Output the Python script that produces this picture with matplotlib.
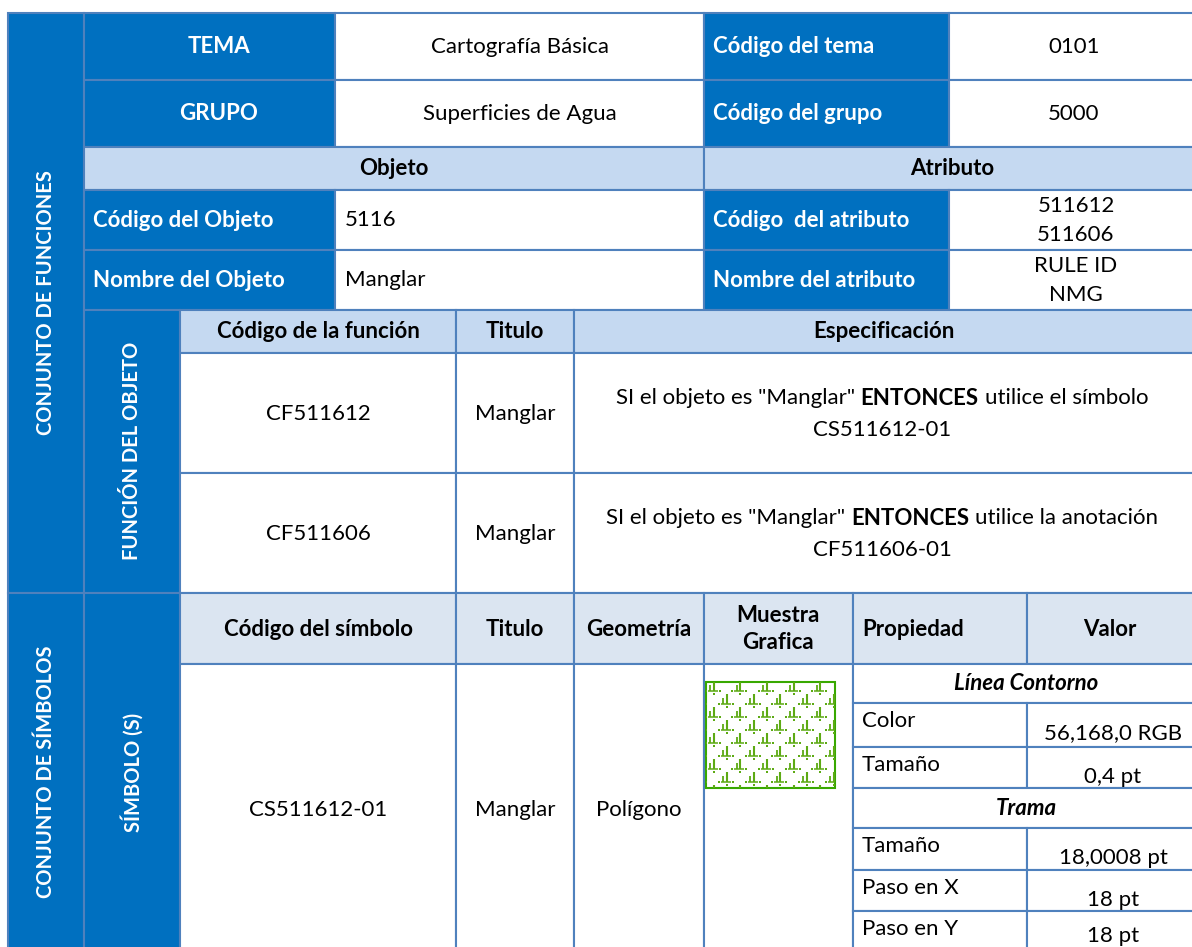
import matplotlib
matplotlib.use("Agg")
import matplotlib.pyplot as plt
from matplotlib.patches import Rectangle

plt.rcParams['font.family'] = ['Lato', 'DejaVu Sans']

# ---------------- contenido de la ficha ----------------
top_labels = ['TEMA', 'GRUPO']
top_values = ['Cartografía Básica', 'Superficies de Agua']
top_code_labels = ['Código del tema', 'Código del grupo']
top_codes = ['0101', '5000']
band_titles = ['Objeto', 'Atributo']
obj_labels = ['Código del Objeto', 'Nombre del Objeto']
obj_values = ['5116', 'Manglar']
attr_labels = ['Código  del atributo', 'Nombre del atributo']
attr_values = [['511612', '511606'], ['RULE ID', 'NMG']]
func_headers = ['Código de la función', 'Titulo', 'Especificación']
func_codes = ['CF511612', 'CF511606']
func_titles = ['Manglar', 'Manglar']
func_spec = [
    [('SI el objeto es "Manglar"', 'normal'), ('ENTONCES', 'bold'), ('utilice el símbolo', 'normal')],
    [('SI el objeto es "Manglar"', 'normal'), ('ENTONCES', 'bold'), ('utilice la anotación', 'normal')],
]
func_spec_2 = ['CS511612-01', 'CF511606-01']
sym_headers = ['Código del símbolo', 'Titulo', 'Geometría', 'Muestra\nGrafica', 'Propiedad', 'Valor']
sym_row = ['CS511612-01', 'Manglar', 'Polígono']
prop_groups = ['Línea Contorno', 'Trama']
prop_names = ['Color', 'Tamaño', 'Tamaño', 'Paso en X', 'Paso en Y']
prop_values = ['56,168,0 RGB', '0,4 pt', '18,0008 pt', '18 pt', '18 pt']
side_titles = ['CONJUNTO DE FUNCIONES', 'CONJUNTO DE SÍMBOLOS']
sub_titles = ['FUNCIÓN DEL OBJETO', 'SÍMBOLO (S)']

# ---------------- estilo ----------------
W, H = 1192, 947
DARK = '#0070C0'
LIGHT = '#C5D9F1'
PALE = '#DBE5F1'
EDGE = '#4F81BD'
GREEN = '#38A800'
FS = 16
FSV = 14.5  # titulos verticales
R = 1200   # borde derecho (fuera del recorte)
B = 960    # borde inferior (fuera del recorte)

fig = plt.figure(figsize=(W / 100, H / 100), dpi=100)
ax = fig.add_axes([0, 0, 1, 1])
ax.set_xlim(0, W)
ax.set_ylim(H, 0)
ax.axis('off')


def cell(x0, y0, x1, y1, fc='white'):
    ax.add_patch(Rectangle((x0, y0), x1 - x0, y1 - y0, facecolor=fc,
                           edgecolor=EDGE, lw=1.5))


def txt(x, y, s, weight='normal', color='black', ha='center', style='normal', rot=0, size=FS):
    return ax.text(x, y, s, fontsize=size, fontweight=weight, color=color, ha=ha,
                   va='center', fontstyle=style, rotation=rot, linespacing=1.2)


# ---- conjunto de funciones ----
cell(8, 13, 84, 593, DARK)
for i, (y0, y1) in enumerate([(13, 80), (80, 147)]):
    cell(84, y0, 335, y1, DARK)
    cell(335, y0, 704, y1)
    cell(704, y0, 949, y1, DARK)
    cell(949, y0, R, y1)
    yc = (y0 + y1) / 2
    txt(219, yc, top_labels[i], 'bold', 'white')
    txt(520, yc, top_values[i])
    txt(713, yc, top_code_labels[i], 'bold', 'white', ha='left')
    txt(1074, yc, top_codes[i])

cell(84, 147, 704, 190, LIGHT)
cell(704, 147, R, 190, LIGHT)
txt(394, 168.5, band_titles[0], 'bold')
txt(952, 168.5, band_titles[1], 'bold')

for i, (y0, y1) in enumerate([(190, 250), (250, 310)]):
    cell(84, y0, 335, y1, DARK)
    cell(335, y0, 704, y1)
    cell(704, y0, 949, y1, DARK)
    cell(949, y0, R, y1)
    yc = (y0 + y1) / 2
    txt(93, yc, obj_labels[i], 'bold', 'white', ha='left')
    txt(345, yc, obj_values[i], ha='left')
    txt(713, yc, attr_labels[i], 'bold', 'white', ha='left')
    txt(1076, yc - 14, attr_values[i][0])
    txt(1076, yc + 15, attr_values[i][1])

# funcion del objeto
cell(84, 310, 180, 593, DARK)
cols_f = [180, 456, 574, R]
for j in range(3):
    cell(cols_f[j], 310, cols_f[j + 1], 353, LIGHT)
txt(318, 331.5, func_headers[0], 'bold')
txt(515, 331.5, func_headers[1], 'bold')
txt(884, 331.5, func_headers[2], 'bold')

fig.canvas.draw()
rend = fig.canvas.get_renderer()


def width(s, weight='normal'):
    t = ax.text(0, 0, s, fontsize=FS, fontweight=weight)
    w = t.get_window_extent(rend).width
    t.remove()
    return w


space = width('x x') - width('xx')


def rich(xc, y, parts):
    ws = [width(s, w) for s, w in parts]
    total = sum(ws) + space * (len(parts) - 1)
    x = xc - total / 2
    for (s, w), wd in zip(parts, ws):
        ax.text(x, y, s, fontsize=FS, fontweight=w, ha='left', va='center')
        x += wd + space


for i, (y0, y1) in enumerate([(353, 473), (473, 593)]):
    for j in range(3):
        cell(cols_f[j], y0, cols_f[j + 1], y1)
    yc = (y0 + y1) / 2
    txt(318, yc + 1, func_codes[i])
    txt(515, yc + 1, func_titles[i])
    rich(882, yc - 15, func_spec[i])
    txt(882, yc + 17, func_spec_2[i])

# ---- conjunto de simbolos ----
cell(8, 593, 84, B, DARK)
cell(84, 593, 180, B, DARK)
cols_s = [180, 456, 574, 704, 853, 1027, R]
for j in range(6):
    cell(cols_s[j], 593, cols_s[j + 1], 664, PALE)
hx = [318, 515, 639, 778, 862, 1110]
for j, h in enumerate(sym_headers):
    t = txt(hx[j], 629, h, 'bold', ha='left' if j == 4 else 'center')
    if '\n' in h:
        t.set_linespacing(1.35)

for j in range(4):
    cell(cols_s[j], 664, cols_s[j + 1], B)
for j in range(3):
    txt(hx[j], 810, sym_row[j])

# propiedades
rows_p = [664, 703, 747, 788, 828, 870, 911, B]
k = 0
g = 0
for r in range(7):
    y0, y1 = rows_p[r], rows_p[r + 1]
    if r in (0, 3):
        cell(853, y0, R, y1)
        txt(1026, (y0 + y1) / 2, prop_groups[g], 'bold', style='italic')
        g += 1
    else:
        cell(853, y0, 1027, y1)
        cell(1027, y0, R, y1)
        txt(862, y0 + 18, prop_names[k], ha='left')
        txt(1113, y0 + (30 if r < 6 else 25), prop_values[k])
        k += 1

# muestra grafica: trama de manglar
sq = Rectangle((706, 682), 129, 106, facecolor='white', edgecolor=GREEN, lw=1.5, zorder=3)
ax.add_patch(sq)
pat = '#5DAA14'
for r in range(9):
    gy = 690 + 13 * r
    off = 0 if r % 2 == 0 else 13.3
    for c in range(-1, 6):
        gx = 712.5 + off + 26.7 * c
        parts = [
            ([gx + 1, gx + 1], [gy - 9, gy + 1], 1.5),
            ([gx - 2.5, gx - 2.5], [gy - 5, gy + 1], 1.3),
            ([gx - 5, gx + 5], [gy + 1, gy + 1], 1.1),
        ]
        for xs, ys, lw in parts:
            ln, = ax.plot(xs, ys, color=pat, lw=lw, solid_capstyle='butt', zorder=4)
            ln.set_clip_path(sq)
        for dx, dy in [(-7, 1), (7, 1), (1, 4)]:
            d, = ax.plot(gx + dx, gy + dy, 's', ms=1.5, color=pat, mew=0, zorder=4)
            d.set_clip_path(sq)

# titulos verticales
txt(46, 303, side_titles[0], 'bold', 'white', rot=90, size=FSV)
txt(46, 772, side_titles[1], 'bold', 'white', rot=90, size=FSV)
txt(132, 451, sub_titles[0], 'bold', 'white', rot=90, size=FSV)
txt(132, 772, sub_titles[1], 'bold', 'white', rot=90, size=FSV)

fig.savefig('out.png', dpi=100, facecolor='white')
